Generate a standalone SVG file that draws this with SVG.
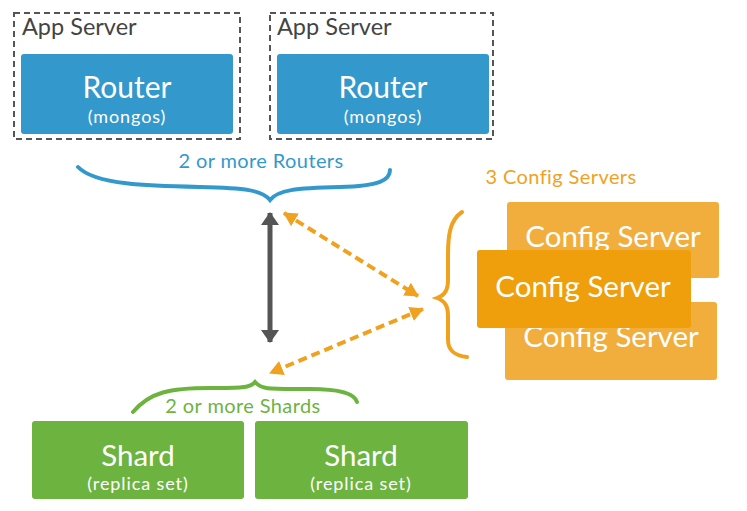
<svg xmlns="http://www.w3.org/2000/svg" width="747" height="511" viewBox="0 0 747 511">
<defs>
<style>
.t{font-family:Lato,"Open Sans","Liberation Sans",sans-serif;text-anchor:middle;fill:#fff}
.sub{font-size:18px;letter-spacing:0.9px}
.lbl{font-family:Lato,"Open Sans","Liberation Sans",sans-serif;text-anchor:middle;font-size:20px;letter-spacing:0.4px}
.app{fill:none;stroke:#555;stroke-width:2;stroke-dasharray:6 4}
.router{fill:#3399CC}
.shard{fill:#6DB33F}
.cfgb{fill:#F2AE3C}
.cfgf{fill:#EE9F0B}
.brace{fill:none;stroke-width:4;stroke-linecap:round}
.dash{fill:none;stroke:#F0A21E;stroke-width:4;stroke-dasharray:9 5}
</style>
<marker id="ag" viewBox="0 0 13 18" refX="12" refY="9" markerWidth="13" markerHeight="18" markerUnits="userSpaceOnUse" orient="auto-start-reverse"><path d="M0,0 L13,9 L0,18 Z" fill="#555"/></marker>
<marker id="ao" viewBox="0 0 14 15" refX="13" refY="7.5" markerWidth="14" markerHeight="15" markerUnits="userSpaceOnUse" orient="auto-start-reverse"><path d="M0,0 L14,7.5 L0,15 Z" fill="#F0A21E"/></marker>
</defs>
<rect width="747" height="511" fill="#fff"/>

<g id="app1">
<rect class="app" x="14" y="13" width="226" height="126"/>
<text x="22" y="35" font-family="Lato,'Open Sans','Liberation Sans',sans-serif" font-size="23.5" fill="#444">App Server</text>
</g>
<g id="router1">
<rect class="router" x="21" y="54" width="212" height="80" rx="3"/>
<text class="t" x="127" y="98" font-size="30">Router</text>
<text class="t sub" x="127" y="123">(mongos)</text>
</g>
<g id="app2">
<rect class="app" x="270" y="13" width="223" height="126"/>
<text x="277" y="35" font-family="Lato,'Open Sans','Liberation Sans',sans-serif" font-size="23.5" fill="#444">App Server</text>
</g>
<g id="router2">
<rect class="router" x="277" y="54" width="212" height="80" rx="3"/>
<text class="t" x="383" y="98" font-size="30">Router</text>
<text class="t sub" x="383" y="123">(mongos)</text>
</g>

<g id="routers-label">
<path class="brace" stroke="#3399CC" d="M78,167 C95,185 150,186 200,187 C245,188 262,190 270,200 C278,190 295,188 340,187 C380,186 390,180 390,170"/>
<text class="lbl" x="261" y="168" fill="#3399CC">2 or more Routers</text>
</g>

<g id="config-label">
<text class="lbl" x="561" y="184" fill="#F0A21E">3 Config Servers</text>
<path class="brace" stroke="#F0A21E" d="M462,212 C450,220 448,235 448,255 L448,280 C448,290 445,295 437,298 C445,301 448,306 448,316 L448,340 C448,350 455,356 467,357"/>
</g>
<g id="config1">
<rect class="cfgb" x="507" y="202" width="212" height="76" rx="3"/>
<text class="t" x="613" y="247" font-size="29.5">Config Server</text>
</g>
<g id="config3">
<rect class="cfgb" x="505" y="302" width="212" height="78" rx="3"/>
<text class="t" x="611" y="347" font-size="29.5">Config Server</text>
</g>
<g id="config2">
<rect class="cfgf" x="477" y="250" width="214" height="78" rx="3"/>
<text class="t" x="583" y="297" font-size="29.5">Config Server</text>
</g>

<g id="connectors">
<line x1="270" y1="213" x2="270" y2="342" stroke="#555" stroke-width="5" marker-start="url(#ag)" marker-end="url(#ag)"/>
<line class="dash" x1="284" y1="213" x2="418" y2="296" marker-start="url(#ao)" marker-end="url(#ao)"/>
<line class="dash" x1="423" y1="309" x2="270" y2="373" marker-start="url(#ao)" marker-end="url(#ao)"/>
</g>

<g id="shards-label">
<path class="brace" stroke="#6DB33F" stroke-width="3.5" d="M133,412 C150,392 170,388 210,388 C240,388 250,388 255,382 C262,390 270,389 310,389 C345,389 355,395 357,402"/>
<text class="lbl" x="243" y="413" fill="#6DB33F">2 or more Shards</text>
</g>
<g id="shard1">
<rect class="shard" x="32" y="421" width="212" height="78" rx="3"/>
<text class="t" x="138" y="466" font-size="29.5">Shard</text>
<text class="t sub" x="138" y="490">(replica set)</text>
</g>
<g id="shard2">
<rect class="shard" x="255" y="421" width="213" height="78" rx="3"/>
<text class="t" x="361" y="466" font-size="29.5">Shard</text>
<text class="t sub" x="361" y="490">(replica set)</text>
</g>
</svg>
